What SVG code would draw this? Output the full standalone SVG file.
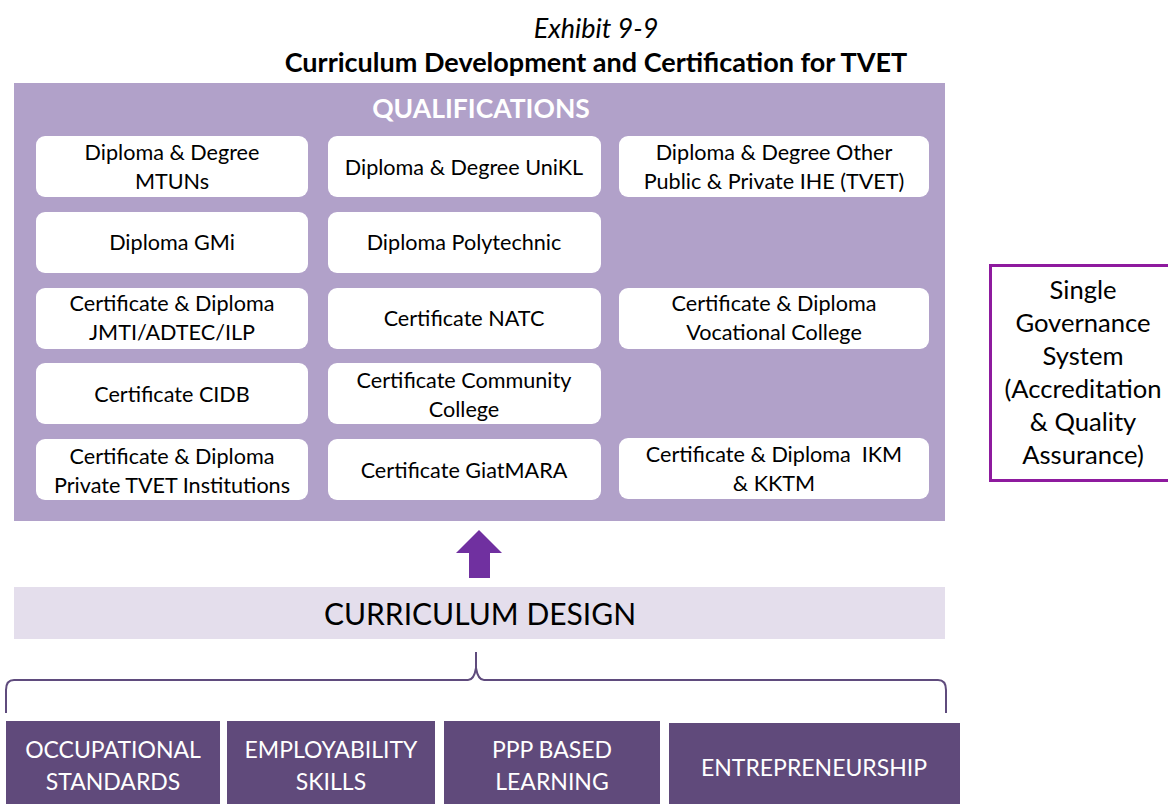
<svg xmlns="http://www.w3.org/2000/svg" width="1168" height="804" viewBox="0 0 1168 804">
<style>
text{font-family:Lato,"Liberation Sans",sans-serif;text-anchor:middle;dominant-baseline:central}
.q{fill:#fff}
.qt{font-size:21.6px;fill:#000}
.b{fill:#604A7B}
.bt{font-size:23px;fill:#fff}
.g{font-size:25.6px;fill:#000}
</style>
<rect width="1168" height="804" fill="#fff"/>
<g id="title">
<text x="596" y="27" font-size="27" font-style="italic">Exhibit 9-9</text>
<text x="596" y="61" font-size="27" font-weight="bold">Curriculum Development and Certification for TVET</text>
</g>
<g id="qualifications">
<rect x="14" y="83" width="931" height="438" fill="#B1A1C9"/>
<text x="481" y="108" font-size="26.5" font-weight="bold" fill="#fff">QUALIFICATIONS</text>
</g>
<g id="q-mtun"><rect class="q" x="36" y="136" width="272" height="61" rx="9"/><text class="qt" x="172" y="152">Diploma &amp; Degree</text><text class="qt" x="172" y="181">MTUNs</text></g>
<g id="q-unikl"><rect class="q" x="328" y="136" width="273" height="61" rx="9"/><text class="qt" x="464" y="167">Diploma &amp; Degree UniKL</text></g>
<g id="q-ihe"><rect class="q" x="619" y="136" width="310" height="61" rx="9"/><text class="qt" x="774" y="152">Diploma &amp; Degree Other</text><text class="qt" x="774" y="181">Public &amp; Private IHE (TVET)</text></g>
<g id="q-gmi"><rect class="q" x="36" y="212" width="272" height="61" rx="9"/><text class="qt" x="172" y="242">Diploma GMi</text></g>
<g id="q-poly"><rect class="q" x="328" y="212" width="273" height="61" rx="9"/><text class="qt" x="464" y="242">Diploma Polytechnic</text></g>
<g id="q-jmti"><rect class="q" x="36" y="288" width="272" height="61" rx="9"/><text class="qt" x="172" y="303">Certificate &amp; Diploma</text><text class="qt" x="172" y="332">JMTI/ADTEC/ILP</text></g>
<g id="q-natc"><rect class="q" x="328" y="288" width="273" height="61" rx="9"/><text class="qt" x="464" y="318">Certificate NATC</text></g>
<g id="q-voc"><rect class="q" x="619" y="288" width="310" height="61" rx="9"/><text class="qt" x="774" y="303">Certificate &amp; Diploma</text><text class="qt" x="774" y="332">Vocational College</text></g>
<g id="q-cidb"><rect class="q" x="36" y="363" width="272" height="61" rx="9"/><text class="qt" x="172" y="394">Certificate CIDB</text></g>
<g id="q-cc"><rect class="q" x="328" y="363" width="273" height="61" rx="9"/><text class="qt" x="464" y="380">Certificate Community</text><text class="qt" x="464" y="409">College</text></g>
<g id="q-private"><rect class="q" x="36" y="439" width="272" height="61" rx="9"/><text class="qt" x="172" y="456">Certificate &amp; Diploma</text><text class="qt" x="172" y="485">Private TVET Institutions</text></g>
<g id="q-giat"><rect class="q" x="328" y="439" width="273" height="61" rx="9"/><text class="qt" x="464" y="470">Certificate GiatMARA</text></g>
<g id="q-ikm"><rect class="q" x="619" y="438" width="310" height="61" rx="9"/><text class="qt" x="774" y="454" xml:space="preserve">Certificate &amp; Diploma  IKM</text><text class="qt" x="774" y="483">&amp; KKTM</text></g>
<g id="connectors">
<path d="M479 530 L502 553 L490 553 L490 578 L469 578 L469 553 L456 553 Z" fill="#7030A0"/>
<path d="M6 713 L6 690 Q6 680 14 680 L468 680 Q474 680 476 668 L476 652 M476 668 Q478 680 484 680 L938 680 Q946 680 946 690 L946 713" fill="none" stroke="#5F4B7D" stroke-width="2"/>
</g>
<g id="curriculum-design">
<rect x="14" y="587" width="931" height="52" fill="#E4DEEC"/>
<text x="480" y="613" font-size="30" fill="#000">CURRICULUM DESIGN</text>
</g>
<g id="occupational"><rect class="b" x="6" y="721" width="214" height="83"/><text class="bt" x="113" y="749">OCCUPATIONAL</text><text class="bt" x="113" y="781">STANDARDS</text></g>
<g id="employability"><rect class="b" x="227" y="721" width="208" height="83"/><text class="bt" x="331" y="749">EMPLOYABILITY</text><text class="bt" x="331" y="781">SKILLS</text></g>
<g id="ppp"><rect class="b" x="444" y="721" width="216" height="83"/><text class="bt" x="552" y="749">PPP BASED</text><text class="bt" x="552" y="781">LEARNING</text></g>
<g id="entrepreneurship"><rect class="b" x="669" y="723" width="291" height="81"/><text class="bt" x="814" y="767">ENTREPRENEURSHIP</text></g>
<g id="governance">
<rect x="990.5" y="265.5" width="190" height="215" fill="#fff" stroke="#8E1A9E" stroke-width="3"/>
<text class="g" x="1083" y="289">Single</text>
<text class="g" x="1083" y="322">Governance</text>
<text class="g" x="1083" y="355">System</text>
<text class="g" x="1083" y="388">(Accreditation</text>
<text class="g" x="1083" y="421">&amp; Quality</text>
<text class="g" x="1083" y="454">Assurance)</text>
</g>
</svg>
